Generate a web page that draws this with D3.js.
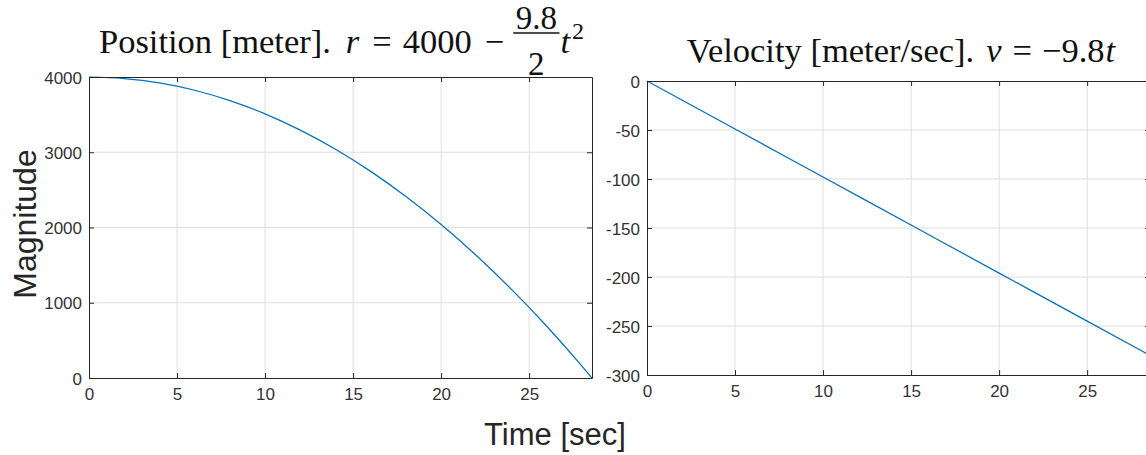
<!DOCTYPE html>
<html>
<head>
<meta charset="utf-8">
<script src="https://cdn.jsdelivr.net/npm/d3@7"></script>
<style>
  body { margin: 0; background: #fff; }
  svg { display: block; }
</style>
</head>
<body>
<svg id="fig" width="1146" height="455"></svg>
<script>
// Falling body: position and velocity sampled over the fall time
const timeSamples    = [0, 2, 4, 6, 8, 10, 12, 14, 16, 18, 20, 22, 24, 26, 28, 28.57];
const positionValues = [4000, 3980, 3922, 3824, 3686, 3510, 3294, 3040, 2746, 2412, 2040, 1628, 1178, 688, 158, 0];
const velocityTimes  = [0, 5, 10, 15, 20, 25, 28.57];
const velocityValues = [0, -49, -98, -147, -196, -245, -280];

const timeTicks     = [0, 5, 10, 15, 20, 25];
const positionTicks = [0, 1000, 2000, 3000, 4000];
const velocityTicks = [-300, -250, -200, -150, -100, -50, 0];
const timeLimits     = [0, 28.57];
const positionLimits = [0, 4000];
const velocityLimits = [-300, 0];

const svg = d3.select("#fig");
const INK = "#262626";
const GRID = "#dfdfdf";
const LINE = "#0072BD";
const TICK_FONT = "'Liberation Sans', Arial, sans-serif";
const MATH_FONT = "'Liberation Serif', 'Times New Roman', serif";

function panel(box, xDomain, yDomain, xTicks, yTicks, xs, ys) {
  const x = d3.scaleLinear().domain(xDomain).range([box.left, box.right]);
  const y = d3.scaleLinear().domain(yDomain).range([box.bottom, box.top]);
  const g = svg.append("g");

  // grid
  g.append("g").selectAll("line").data(xTicks.filter(d => d > xDomain[0])).join("line")
    .attr("x1", d => x(d)).attr("x2", d => x(d))
    .attr("y1", box.top).attr("y2", box.bottom)
    .attr("stroke", GRID).attr("stroke-width", 1);
  g.append("g").selectAll("line").data(yTicks.filter(d => d > yDomain[0] && d < yDomain[1])).join("line")
    .attr("x1", box.left).attr("x2", box.right)
    .attr("y1", d => y(d)).attr("y2", d => y(d))
    .attr("stroke", GRID).attr("stroke-width", 1);

  // data line
  const pts = xs.map((t, i) => [t, ys[i]]);
  g.append("path").datum(pts)
    .attr("fill", "none").attr("stroke", LINE).attr("stroke-width", 1.25)
    .attr("d", d3.line().x(d => x(d[0])).y(d => y(d[1])).curve(d3.curveMonotoneX));

  // axes with inward ticks
  const fmt = d => String(d);
  const ax = g.append("g").attr("transform", `translate(0,${box.bottom})`)
    .call(d3.axisBottom(x).tickValues(xTicks).tickFormat(fmt).tickSizeInner(-5).tickSizeOuter(0).tickPadding(10));
  const ay = g.append("g").attr("transform", `translate(${box.left},0)`)
    .call(d3.axisLeft(y).tickValues(yTicks).tickFormat(fmt).tickSizeInner(-5).tickSizeOuter(0).tickPadding(7));
  const at = g.append("g").attr("transform", `translate(0,${box.top})`)
    .call(d3.axisTop(x).tickValues(xTicks).tickSizeInner(-5).tickSizeOuter(0).tickFormat(""));
  const ar = g.append("g").attr("transform", `translate(${box.right},0)`)
    .call(d3.axisRight(y).tickValues(yTicks).tickSizeInner(-5).tickSizeOuter(0).tickFormat(""));

  [ax, ay, at, ar].forEach(a => {
    a.select(".domain").attr("stroke", INK).attr("stroke-width", 1);
    a.selectAll(".tick line").attr("stroke", INK);
    a.selectAll("text").attr("fill", "#333").style("font-family", TICK_FONT).style("font-size", "17px");
  });
  ay.selectAll("text").attr("dy", "0.36em");
  return { x, y, g };
}

const leftBox  = { left: 89,  right: 592,  top: 77, bottom: 378 };
const rightBox = { left: 647, right: 1150, top: 81, bottom: 375 };

panel(leftBox, timeLimits, positionLimits, timeTicks, positionTicks, timeSamples, positionValues);
panel(rightBox, timeLimits, velocityLimits, timeTicks, velocityTicks, velocityTimes, velocityValues);

// ---- titles typeset with serif math ----
const TSIZE = 34.5;
function token(g, str, italic, size) {
  return g.append("text").text(str)
    .style("font-family", MATH_FONT).style("font-size", (size || TSIZE) + "px")
    .style("font-style", italic ? "italic" : "normal").attr("fill", "#111");
}
function width(t) { return t.node().getComputedTextLength(); }

// Position title with a displayed fraction
(function () {
  const g = svg.append("g");
  const base = 53;
  let cx = 0;
  const seq = [
    ["Position [meter].", false, 15],
    ["r", true, 13],
    ["=", false, 11],
    ["4000", false, 13],
    ["\u2212", false, 9]
  ];
  seq.forEach(([s, it, gap]) => {
    const t = token(g, s, it).attr("x", cx).attr("y", base);
    cx += width(t) + gap;
  });
  const num = token(g, "9.8", false, 33);
  const den = token(g, "2", false, 33);
  const fracW = Math.max(width(num), width(den)) + 5;
  num.attr("x", cx + fracW / 2).attr("y", base - 24.5).attr("text-anchor", "middle");
  den.attr("x", cx + fracW / 2).attr("y", base + 22).attr("text-anchor", "middle");
  g.append("line").attr("x1", cx).attr("x2", cx + fracW)
    .attr("y1", base - 20).attr("y2", base - 20).attr("stroke", "#111").attr("stroke-width", 1.4);
  cx += fracW + 1;
  const tt = token(g, "t", true).attr("x", cx).attr("y", base);
  cx += width(tt) + 2;
  const sq = token(g, "2", false, 24).attr("x", cx).attr("y", base - 14);
  cx += width(sq);
  const center = (leftBox.left + leftBox.right) / 2 + 1;
  g.attr("transform", `translate(${center - cx / 2},0)`);
})();

// Velocity title
(function () {
  const g = svg.append("g");
  const base = 62;
  let cx = 0;
  const seq = [
    ["Velocity [meter/sec].", false, 12],
    ["v", true, 11],
    ["=", false, 10],
    ["\u22129.8", false, 1],
    ["t", true, 0]
  ];
  seq.forEach(([s, it, gap]) => {
    const t = token(g, s, it).attr("x", cx).attr("y", base);
    cx += width(t) + gap;
  });
  g.attr("transform", `translate(${901 - cx / 2},0)`);
})();

// shared axis labels
svg.append("text").text("Time [sec]")
  .attr("x", 555).attr("y", 445).attr("text-anchor", "middle")
  .style("font-family", TICK_FONT).style("font-size", "31px").attr("fill", INK);
svg.append("text").text("Magnitude")
  .attr("transform", "translate(36,224) rotate(-90)").attr("text-anchor", "middle")
  .style("font-family", TICK_FONT).style("font-size", "32px").attr("fill", INK);
</script>
</body>
</html>
